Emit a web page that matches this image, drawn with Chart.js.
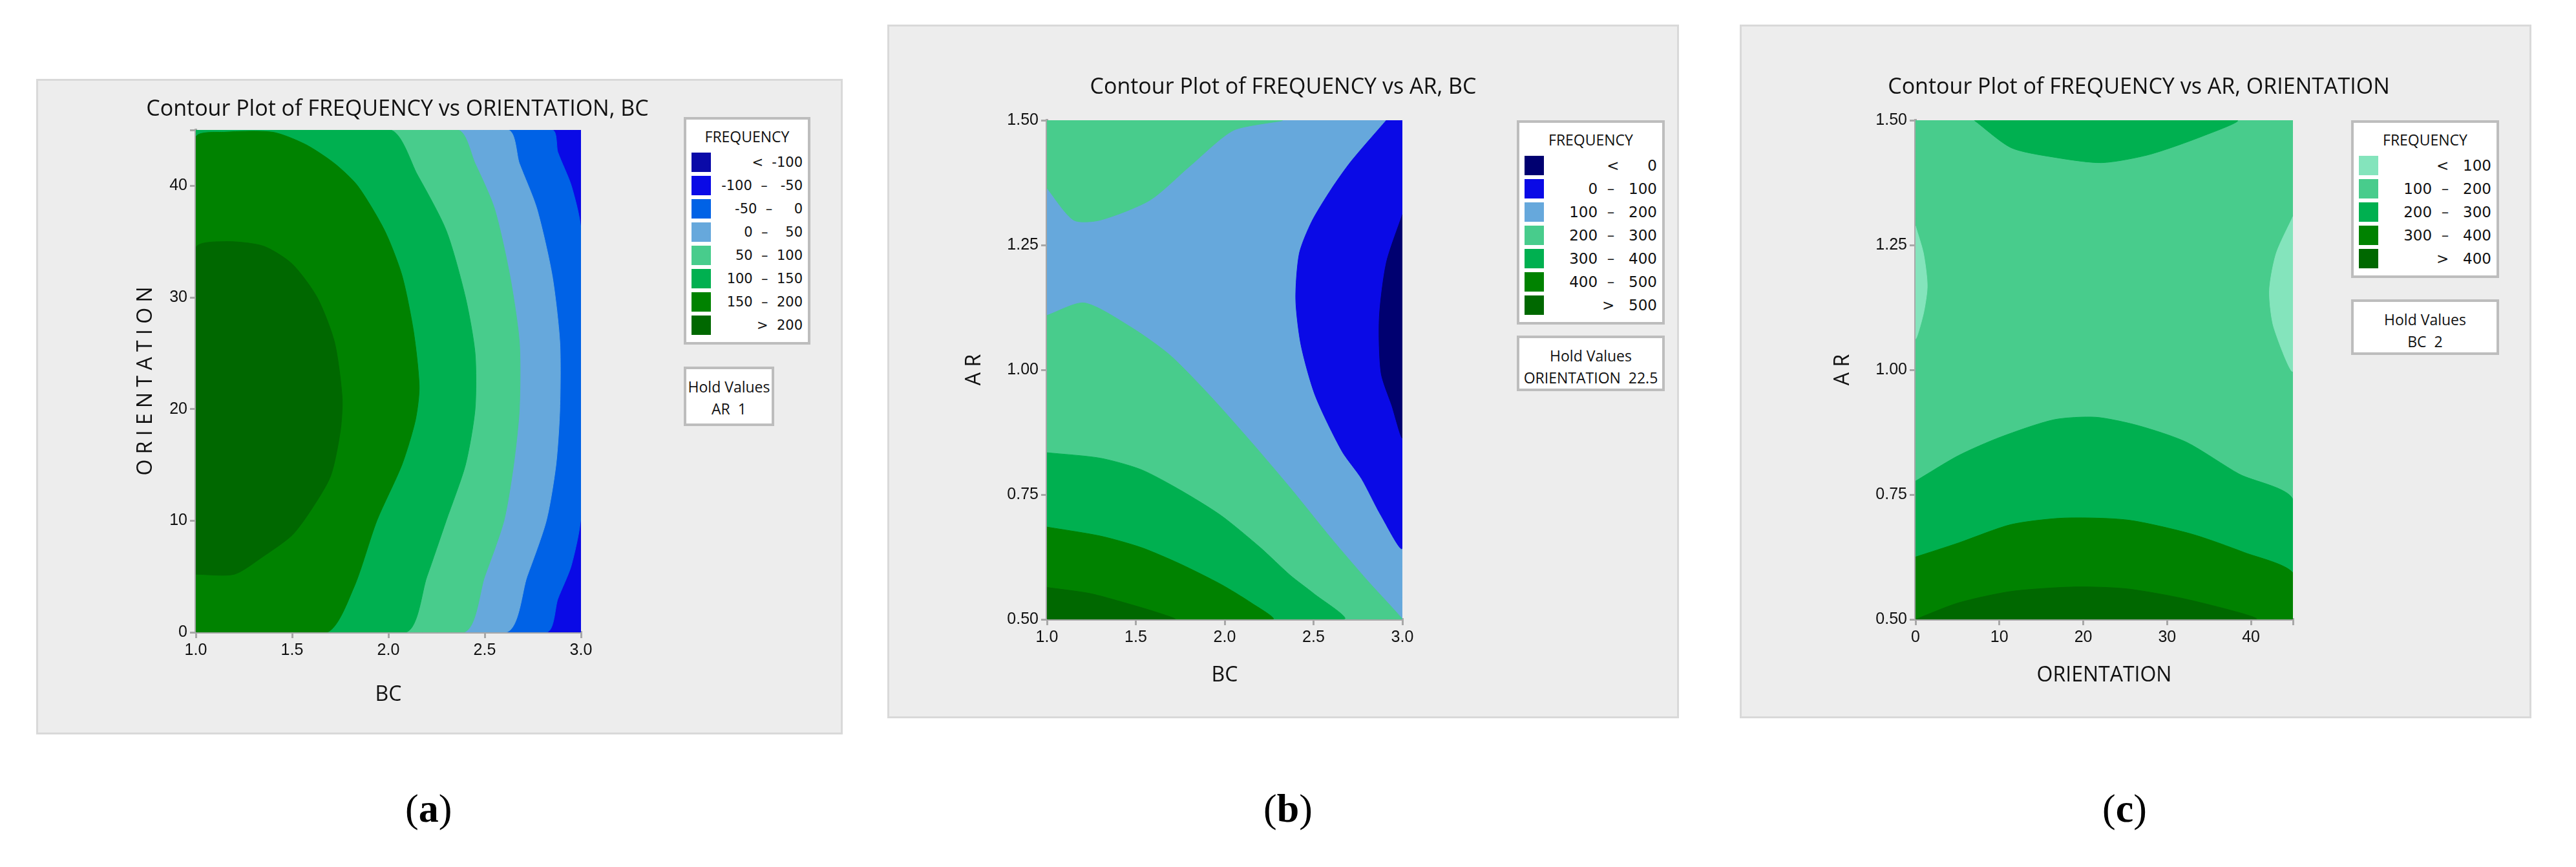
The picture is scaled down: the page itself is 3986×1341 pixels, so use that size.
<!DOCTYPE html>
<html>
<head>
<meta charset="utf-8">
<script src="https://cdn.jsdelivr.net/npm/chart.js@4/dist/chart.umd.min.js"></script>
<style>
body{margin:0;width:3986px;height:1341px;background:#fff;position:relative;font-family:"Liberation Sans Narrow","Open Sans",sans-serif;overflow:hidden}
.panel{position:absolute;background:#ededed;border:3px solid #d9d9d9;box-sizing:border-box}
.panel canvas{position:absolute;left:0;top:0}
.ttl{position:absolute;left:0;right:0;text-align:center;font-size:34px;color:#111}
.box{position:absolute;background:#fff;border:4px solid #bdbdbd;box-sizing:border-box;font-size:23px;color:#111}
.box .h{text-align:center;margin:10px 0 6px}
.row{display:flex;align-items:center;height:36px;padding:0 8px}
.sw{width:30px;height:30px;margin-right:6px;flex-shrink:0}
.lab{flex:1;text-align:right;white-space:pre;font-family:"Liberation Sans Narrow","DejaVu Sans",sans-serif}
#la .lab{font-size:21px}
.hold{text-align:center;line-height:34px;padding-top:10px}
.cap{position:absolute;top:1215px;font-family:"Liberation Serif",serif;font-size:62px}
</style>
</head>
<body>
<div class="panel" id="pa" style="left:56px;top:122px;width:1248px;height:1014px">
  <canvas id="ca"></canvas>
  <div class="ttl" style="top:18px;left:-130px">Contour Plot of FREQUENCY vs ORIENTATION, BC</div>
  <div class="box" style="left:999px;top:56px;width:196px" id="la"></div>
  <div class="box hold" style="left:999px;top:442px;width:140px;height:92px">Hold Values<br>AR&nbsp;&nbsp;1</div>
</div>
<div class="panel" id="pb" style="left:1373px;top:38px;width:1225px;height:1073px">
  <canvas id="cb"></canvas>
  <div class="ttl" style="top:68px">Contour Plot of FREQUENCY vs AR, BC</div>
  <div class="box" style="left:971px;top:145px;width:229px" id="lb"></div>
  <div class="box hold" style="left:971px;top:478px;width:229px;height:86px">Hold Values<br>ORIENTATION&nbsp;&nbsp;22.5</div>
</div>
<div class="panel" id="pc" style="left:2692px;top:38px;width:1225px;height:1073px">
  <canvas id="cc"></canvas>
  <div class="ttl" style="top:68px;left:10px">Contour Plot of FREQUENCY vs AR, ORIENTATION</div>
  <div class="box" style="left:943px;top:145px;width:229px" id="lc"></div>
  <div class="box hold" style="left:943px;top:422px;width:229px;height:86px">Hold Values<br>BC&nbsp;&nbsp;2</div>
</div>
<div class="cap" style="left:627px">(<b>a</b>)</div>
<div class="cap" style="left:1955px">(<b>b</b>)</div>
<div class="cap" style="left:3253px">(<b>c</b>)</div>
<script>
// ---- panel (a): FREQUENCY vs ORIENTATION, BC (regions with value above each level)
var levelsA = ['<  -100', '-100  –   -50', '-50  –     0', '0  –    50', '50  –  100', '100  –  150', '150  –  200', '>  200'];
var colorsA = ['#0a0aa8', '#0a0ae6', '#0062e6', '#66a8dc', '#48cc8c', '#00b050', '#008200', '#006800'];
var aBase = [[1,0],[3,0],[3,45],[1,45]];                       // -100..-50
var aGtM50 = [[1,0],[2.82,0],[2.88,3],[2.95,6],[3,10.5],[3,36],[2.95,40],[2.88,43],[2.85,45],[1,45]];
var aGt0 = [[1,0],[2.61,0],[2.72,5],[2.82,10],[2.87,15],[2.89,20],[2.89,26],[2.85,32],[2.77,38],[2.68,42],[2.62,45],[1,45]];
var aGt50 = [[1,0],[2.39,0],[2.5,5],[2.6,10],[2.65,15],[2.68,20],[2.68,26],[2.63,32],[2.55,38],[2.45,42],[2.36,45],[1,45]];
var aGt100 = [[1,0],[2.09,0],[2.2,5],[2.3,10],[2.4,15],[2.45,20],[2.45,25],[2.4,30],[2.3,36],[2.15,41],[2.01,45],[1,45]];
var aGt150 = [[1,0],[1.68,0],[1.82,4],[1.94,10],[2.07,15],[2.14,19],[2.16,22],[2.13,27],[2.07,32],[1.98,36],[1.84,40],[1.72,42],[1.57,43.7],[1.4,44.8],[1.15,44.8],[1,44.3]];
var aGt200 = [[1,5.2],[1.2,5.2],[1.35,6.8],[1.5,8.7],[1.6,11],[1.7,14],[1.75,18],[1.76,21],[1.72,26],[1.63,30],[1.5,33],[1.35,34.6],[1.15,35],[1,34.4]];
var aRegions = [aBase, aGtM50, aGt0, aGt50, aGt100, aGt150, aGt200];
var aRegionColors = [colorsA[1], colorsA[2], colorsA[3], colorsA[4], colorsA[5], colorsA[6], colorsA[7]];

// ---- panel (b): FREQUENCY vs AR, BC
var levelsB = ['<      0', '0  –   100', '100  –   200', '200  –   300', '300  –   400', '400  –   500', '>   500'];
var colorsB = ['#000070', '#0a0ae6', '#66a8dc', '#48cc8c', '#00b050', '#008200', '#006800'];
var bBase = [[1,0.5],[3,0.5],[3,1.5],[1,1.5]];                  // 100..200
var bTopGt200 = [[1,1.364],[1.15,1.30],[1.3,1.30],[1.58,1.34],[1.81,1.41],[2.05,1.48],[2.32,1.5],[1,1.5]];
var bGt200 = [[1,1.109],[1.21,1.134],[1.47,1.086],[1.69,1.03],[1.92,0.947],[2.15,0.855],[2.37,0.763],[2.6,0.662],[2.8,0.579],[3,0.5],[1,0.5]];
var bGt300 = [[1,0.834],[1.3,0.823],[1.53,0.8],[1.75,0.759],[1.98,0.708],[2.2,0.644],[2.37,0.588],[2.5,0.552],[2.67,0.5],[1,0.5]];
var bGt400 = [[1,0.685],[1.3,0.667],[1.53,0.644],[1.75,0.611],[1.98,0.57],[2.15,0.533],[2.27,0.5],[1,0.5]];
var bGt500 = [[1,0.564],[1.24,0.552],[1.44,0.533],[1.61,0.515],[1.72,0.5],[1,0.5]];
var bLt100 = [[2.91,1.5],[2.71,1.417],[2.6,1.362],[2.49,1.297],[2.42,1.233],[2.4,1.141],[2.43,1.049],[2.51,0.948],[2.66,0.837],[2.77,0.782],[2.88,0.708],[3,0.644],[3,1.5]];
var bLt0 = [[3,1.311],[2.91,1.215],[2.87,1.104],[2.88,0.994],[2.94,0.929],[3,0.865]];
var bRegions = [bBase, bTopGt200, bGt200, bGt300, bGt400, bGt500, bLt100, bLt0];
var bRegionColors = [colorsB[2], colorsB[3], colorsB[3], colorsB[4], colorsB[5], colorsB[6], colorsB[1], colorsB[0]];

// ---- panel (c): FREQUENCY vs AR, ORIENTATION
var levelsC = ['<   100', '100  –   200', '200  –   300', '300  –   400', '>   400'];
var colorsC = ['#84e4bc', '#48cc8c', '#00b050', '#008200', '#006800'];
var cBase = [[0,0.5],[45,0.5],[45,1.5],[0,1.5]];                // 100..200
var cTopGt200 = [[7,1.5],[11.4,1.445],[16.5,1.426],[22.2,1.415],[27.8,1.431],[34.2,1.468],[38.3,1.5]];
var cGt200 = [[0,0.777],[5.1,0.828],[10.1,0.865],[16.5,0.9],[21.5,0.905],[26.6,0.888],[32.3,0.855],[38.6,0.791],[45,0.74],[45,0.5],[0,0.5]];
var cGt300 = [[0,0.625],[5.1,0.653],[11.4,0.69],[17.7,0.703],[25.3,0.699],[32.9,0.671],[39.2,0.634],[45,0.593],[45,0.5],[0,0.5]];
var cGt400 = [[0,0.5],[5.1,0.533],[11.4,0.556],[19,0.565],[25.3,0.561],[32.9,0.538],[40.5,0.5]];
var cLtLeft = [[0,1.288],[0.95,1.233],[1.4,1.168],[0.95,1.113],[0,1.063]];
var cLtRight = [[45,1.307],[43,1.233],[42.2,1.159],[42.7,1.086],[45,0.998]];
var cRegions = [cBase, cTopGt200, cGt200, cGt300, cGt400, cLtLeft, cLtRight];
var cRegionColors = [colorsC[1], colorsC[2], colorsC[2], colorsC[3], colorsC[4], colorsC[0], colorsC[0]];

function legend(id, levels, colors) {
  var html = '<div class="h">FREQUENCY</div>';
  levels.forEach(function (l, i) {
    html += '<div class="row"><div class="sw" style="background:' + colors[i] + '"></div><div class="lab">' + l + '</div></div>';
  });
  document.getElementById(id).innerHTML = html + '<div style="height:8px"></div>';
}
legend('la', levelsA, colorsA);
legend('lb', levelsB, colorsB);
legend('lc', levelsC, colorsC);

function axis(min, max, step, title, fmt, size, spacing) {
  return {
    type: 'linear', min: min, max: max,
    border: {color: '#a8a8a8', width: 4},
    grid: {display: true, drawOnChartArea: false, color: '#a8a8a8', tickLength: 9, lineWidth: 3},
    ticks: {stepSize: step, color: '#111', font: {family: '"Liberation Sans Narrow", sans-serif', size: 25},
            callback: function (v) { return Math.abs(v / step - Math.round(v / step)) < 1e-6 ? fmt(v) : ''; },
            maxRotation: 0, padding: 4},
    title: {display: true, text: spacing ? title.split('').join(' ') : title, color: '#111',
            font: {family: '"Liberation Sans Narrow", "Open Sans", sans-serif', size: 32}},
    afterFit: function (s) { if (s.isHorizontal()) s.height = size; else s.width = size; }
  };
}

function make(id, panel, regions, cols, xs, ys, pad) {
  var p = document.getElementById(panel);
  var cv = document.getElementById(id);
  cv.width = p.clientWidth; cv.height = p.clientHeight;
  var ds = regions.map(function (r, i) {
    var pts = r.map(function (q) { return {x: q[0], y: q[1]}; });
    pts.push(pts[0]);
    return {data: pts, showLine: true, fill: 'shape', backgroundColor: cols[i], borderColor: cols[i],
            borderWidth: 1, pointRadius: 0, tension: 0.25, order: regions.length - i};
  });
  new Chart(cv, {
    type: 'scatter',
    data: {datasets: ds},
    options: {
      responsive: false, animation: false, events: [],
      layout: {padding: pad},
      plugins: {legend: {display: false}, tooltip: {enabled: false}},
      scales: {x: xs, y: ys}
    }
  });
}

var f1 = function (v) { return v.toFixed(1); };
var f2 = function (v) { return v.toFixed(2); };
var f0 = function (v) { return String(v); };

make('ca', 'pa', aRegions, aRegionColors,
  axis(1, 3, 0.5, 'BC', f1, 120),
  axis(0, 45, 10, 'ORIENTATION', f0, 100, true),
  {left: 144, right: 402, top: 76, bottom: 35});
make('cb', 'pb', bRegions, bRegionColors,
  axis(1, 3, 0.5, 'BC', f1, 110),
  axis(0.5, 1.5, 0.25, 'AR', f2, 135, true),
  {left: 109, right: 425, top: 145, bottom: 40});
make('cc', 'pc', cRegions, cRegionColors,
  axis(0, 45, 10, 'ORIENTATION', f0, 110),
  axis(0.5, 1.5, 0.25, 'AR', f2, 135, true),
  {left: 134, right: 366, top: 145, bottom: 40});
</script>
</body>
</html>
